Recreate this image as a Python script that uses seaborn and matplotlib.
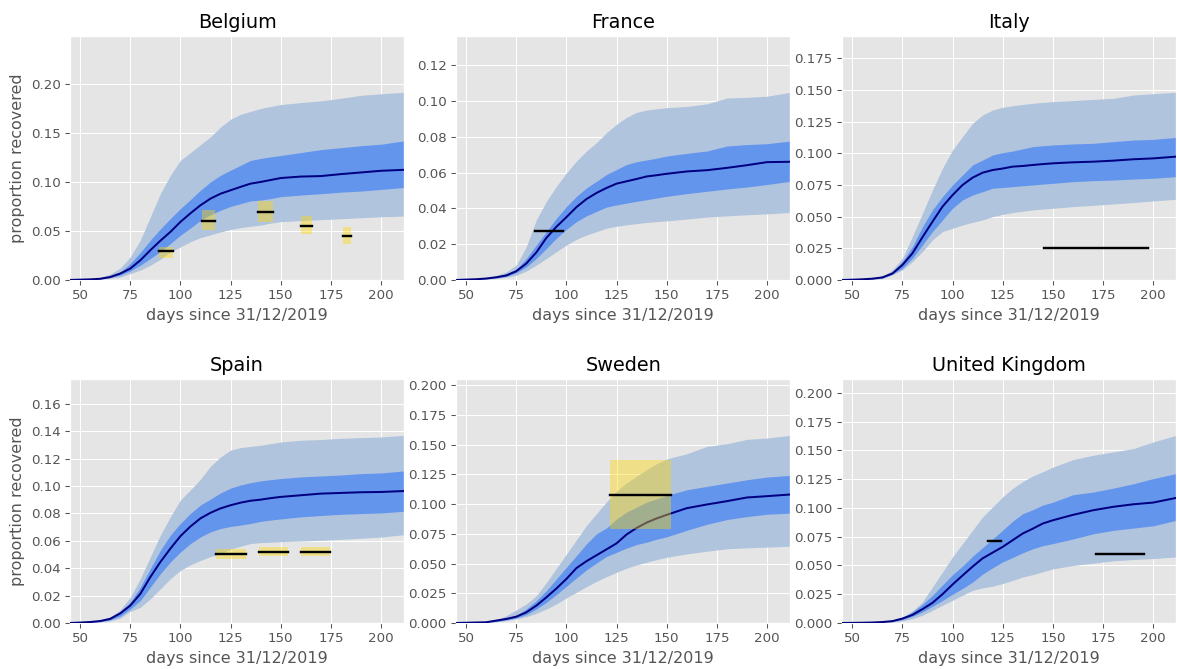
import matplotlib
matplotlib.use("Agg")
import matplotlib.pyplot as plt
from matplotlib.ticker import MultipleLocator
import seaborn as sns

# Modelled cumulative proportion recovered: median with 50% and 95% intervals
days = [45, 50, 55, 60, 65, 70, 75, 80, 85, 90, 95, 100, 105, 110, 115, 120,
        125, 130, 135, 140, 145, 150, 160, 170, 180, 190, 200, 211.6]

countries = ["Belgium", "France", "Italy", "Spain", "Sweden", "United Kingdom"]

belgium_median = [0, 0.0003, 0.0006, 0.0012, 0.003, 0.0065, 0.0116, 0.020, 0.0303, 0.040, 0.049, 0.0592, 0.068, 0.0762,
                  0.083, 0.088, 0.0915, 0.095, 0.0983, 0.100, 0.102, 0.104, 0.1055, 0.106, 0.108, 0.1097, 0.1114, 0.1124]
belgium_q25 = [0, 0.0002, 0.0005, 0.001, 0.0025, 0.005, 0.0092, 0.015, 0.0218, 0.029, 0.037, 0.0456, 0.053, 0.0609,
               0.0665, 0.0711, 0.075, 0.0779, 0.0806, 0.0815, 0.083, 0.085, 0.0866, 0.088, 0.0896, 0.0907, 0.0924, 0.0944]
belgium_q75 = [0, 0.0004, 0.0008, 0.0016, 0.004, 0.008, 0.0167, 0.028, 0.0405, 0.052, 0.0626, 0.0728, 0.082, 0.0915,
               0.100, 0.1068, 0.112, 0.117, 0.122, 0.124, 0.1256, 0.127, 0.130, 0.133, 0.135, 0.137, 0.1385, 0.142]
belgium_q025 = [0, 0.0001, 0.0003, 0.0006, 0.0015, 0.003, 0.0065, 0.010, 0.015, 0.021, 0.0286, 0.0337, 0.039, 0.0432,
                0.046, 0.049, 0.0515, 0.0534, 0.0548, 0.056, 0.058, 0.0595, 0.0605, 0.0615, 0.0625, 0.0635, 0.0645, 0.0652]
belgium_q975 = [0.0001, 0.0006, 0.0012, 0.0025, 0.006, 0.012, 0.0235, 0.0405, 0.0643, 0.088, 0.1068, 0.122, 0.130, 0.138,
                0.146, 0.156, 0.164, 0.169, 0.172, 0.175, 0.177, 0.179, 0.181, 0.1827, 0.1854, 0.1884, 0.190, 0.1915]

france_median = [0, 0.0002, 0.0004, 0.0008, 0.0015, 0.0025, 0.0049, 0.0092, 0.0154, 0.0235, 0.0297, 0.0351, 0.0407, 0.0452,
                 0.0486, 0.0514, 0.0538, 0.0551, 0.0564, 0.0578, 0.0585, 0.0593, 0.0606, 0.0613, 0.0626, 0.0641, 0.0658, 0.066]
france_q25 = [0, 0.0001, 0.0003, 0.0006, 0.0012, 0.002, 0.004, 0.0073, 0.012, 0.0176, 0.0233, 0.0283, 0.0326, 0.0358,
              0.0383, 0.0407, 0.0419, 0.0429, 0.0439, 0.0448, 0.0458, 0.0467, 0.0482, 0.0495, 0.0508, 0.0519, 0.0533, 0.0551]
france_q75 = [0, 0.0003, 0.0006, 0.001, 0.002, 0.0035, 0.006, 0.012, 0.0195, 0.027, 0.0345, 0.041, 0.0467, 0.0514,
              0.0551, 0.0589, 0.0617, 0.0645, 0.066, 0.067, 0.068, 0.0692, 0.0707, 0.072, 0.0748, 0.0756, 0.0761, 0.0776]
france_q025 = [0, 0.0001, 0.0002, 0.0004, 0.0008, 0.0015, 0.0026, 0.005, 0.0083, 0.012, 0.0158, 0.0195, 0.0227, 0.0251,
               0.027, 0.0289, 0.030, 0.0308, 0.0315, 0.0321, 0.0326, 0.033, 0.034, 0.0351, 0.0358, 0.0364, 0.0369, 0.0377]
france_q975 = [0.0001, 0.0004, 0.0008, 0.0014, 0.0025, 0.0045, 0.0083, 0.0186, 0.0336, 0.0439, 0.0523, 0.0598, 0.0664, 0.072,
               0.0767, 0.0823, 0.087, 0.0908, 0.0936, 0.0949, 0.0956, 0.0962, 0.0969, 0.0983, 0.1016, 0.102, 0.1026, 0.1048]

italy_median = [0, 0.0002, 0.0005, 0.001, 0.002, 0.005, 0.0118, 0.021, 0.0337, 0.046, 0.0579, 0.067, 0.075, 0.0808,
                0.0847, 0.0868, 0.088, 0.0895, 0.090, 0.0908, 0.0915, 0.0921, 0.0929, 0.0934, 0.0942, 0.0953, 0.096, 0.0974]
italy_q25 = [0, 0.0001, 0.0003, 0.0007, 0.0015, 0.0047, 0.0092, 0.0171, 0.0276, 0.0382, 0.0474, 0.0566, 0.0632, 0.0671,
             0.0697, 0.0724, 0.073, 0.0737, 0.0744, 0.075, 0.0757, 0.0763, 0.0776, 0.0784, 0.0789, 0.0797, 0.0803, 0.0816]
italy_q75 = [0, 0.0003, 0.0007, 0.0014, 0.003, 0.0066, 0.0145, 0.0263, 0.042, 0.0553, 0.0658, 0.075, 0.0829, 0.0908,
             0.0947, 0.0987, 0.1005, 0.1018, 0.1035, 0.1053, 0.106, 0.1066, 0.1074, 0.1079, 0.1092, 0.1105, 0.111, 0.1126]
italy_q025 = [0, 0.0001, 0.0002, 0.0005, 0.001, 0.004, 0.0079, 0.0145, 0.0224, 0.0316, 0.0382, 0.0408, 0.0434, 0.0455,
              0.0474, 0.050, 0.0518, 0.0532, 0.0543, 0.0553, 0.056, 0.0566, 0.0579, 0.0589, 0.060, 0.0611, 0.0624, 0.0637]
italy_q975 = [0.0001, 0.0004, 0.0009, 0.0017, 0.003, 0.0079, 0.0171, 0.0342, 0.0526, 0.071, 0.0882, 0.1026, 0.1132, 0.1237,
              0.1303, 0.1342, 0.1363, 0.1376, 0.1386, 0.1395, 0.1402, 0.1408, 0.1416, 0.1426, 0.1434, 0.146, 0.1471, 0.1482]

spain_median = [0, 0.0003, 0.0007, 0.0014, 0.003, 0.007, 0.0127, 0.0212, 0.0335, 0.0445, 0.0543, 0.0634, 0.0705, 0.0764,
                0.0805, 0.0837, 0.086, 0.0879, 0.0893, 0.0901, 0.0912, 0.0921, 0.0933, 0.0945, 0.095, 0.0955, 0.0957, 0.0964]
spain_q25 = [0, 0.0002, 0.0005, 0.001, 0.0022, 0.005, 0.0102, 0.0163, 0.0261, 0.0359, 0.0445, 0.0518, 0.058, 0.0629,
             0.0665, 0.069, 0.0705, 0.0715, 0.0727, 0.0742, 0.0752, 0.076, 0.0775, 0.0785, 0.0794, 0.0799, 0.0804, 0.0816]
spain_q75 = [0, 0.0004, 0.0009, 0.0018, 0.004, 0.0085, 0.0151, 0.0261, 0.0396, 0.0531, 0.0641, 0.0727, 0.080, 0.0862,
             0.0905, 0.095, 0.0985, 0.1008, 0.1025, 0.1038, 0.1047, 0.1055, 0.1067, 0.1074, 0.1081, 0.1091, 0.1096, 0.1111]
spain_q025 = [0, 0.0001, 0.0003, 0.0007, 0.0015, 0.0035, 0.0085, 0.0114, 0.0176, 0.0249, 0.0323, 0.0384, 0.0425, 0.0457,
              0.0485, 0.0506, 0.054, 0.056, 0.058, 0.0587, 0.059, 0.0594, 0.0599, 0.0604, 0.0611, 0.0619, 0.0628, 0.0645]
spain_q975 = [0.0001, 0.0005, 0.0011, 0.0022, 0.0045, 0.0095, 0.0188, 0.0323, 0.0482, 0.0641, 0.0776, 0.0898, 0.0972, 0.105,
              0.1145, 0.1213, 0.1262, 0.1281, 0.129, 0.1298, 0.131, 0.1322, 0.1335, 0.134, 0.1349, 0.1354, 0.1359, 0.1371]

sweden_median = [0, 0.0002, 0.0004, 0.0006, 0.002, 0.0034, 0.0053, 0.009, 0.0146, 0.0216, 0.029, 0.0371, 0.0462, 0.052,
                 0.057, 0.062, 0.067, 0.0745, 0.080, 0.0845, 0.088, 0.091, 0.0966, 0.0997, 0.1025, 0.1056, 0.1067, 0.1081]
sweden_q25 = [0, 0.0001, 0.0003, 0.0005, 0.0012, 0.0025, 0.0042, 0.007, 0.0118, 0.0174, 0.0239, 0.0309, 0.0379, 0.0447,
              0.0505, 0.056, 0.0595, 0.063, 0.066, 0.068, 0.0705, 0.0725, 0.078, 0.083, 0.087, 0.0895, 0.0915, 0.0924]
sweden_q75 = [0, 0.0003, 0.0006, 0.001, 0.0025, 0.0042, 0.0062, 0.0118, 0.0188, 0.0272, 0.0371, 0.0469, 0.0567, 0.0666,
              0.075, 0.080, 0.0876, 0.0933, 0.0975, 0.1017, 0.1045, 0.1073, 0.1121, 0.1149, 0.1177, 0.1205, 0.1228, 0.1242]
sweden_q025 = [0, 0.0001, 0.0003, 0.0005, 0.001, 0.002, 0.0034, 0.0053, 0.0081, 0.0118, 0.016, 0.0211, 0.0258, 0.0306,
               0.0351, 0.039, 0.0427, 0.0461, 0.0489, 0.0511, 0.0533, 0.0553, 0.0581, 0.0604, 0.0624, 0.0632, 0.0638, 0.0646]
sweden_q975 = [0.0001, 0.0004, 0.0008, 0.0014, 0.0025, 0.0062, 0.011, 0.016, 0.023, 0.034, 0.046, 0.058, 0.070, 0.082,
               0.092, 0.102, 0.111, 0.118, 0.1235, 0.129, 0.134, 0.138, 0.1424, 0.1486, 0.1508, 0.1545, 0.1556, 0.1579]

uk_median = [0, 0.0001, 0.0002, 0.0004, 0.0008, 0.0016, 0.0038, 0.007, 0.012, 0.0175, 0.025, 0.0334, 0.0413, 0.049,
             0.0562, 0.0612, 0.0662, 0.072, 0.0778, 0.082, 0.0865, 0.0893, 0.094, 0.098, 0.101, 0.1032, 0.1047, 0.1088]
uk_q25 = [0, 0.0001, 0.0001, 0.0003, 0.0006, 0.0012, 0.0029, 0.0058, 0.0096, 0.0145, 0.0195, 0.025, 0.030, 0.0355,
          0.0425, 0.048, 0.0531, 0.057, 0.061, 0.0645, 0.0672, 0.069, 0.073, 0.0775, 0.0805, 0.0825, 0.0845, 0.0893]
uk_q75 = [0, 0.0001, 0.0003, 0.0005, 0.001, 0.0022, 0.0046, 0.0096, 0.0162, 0.024, 0.033, 0.042, 0.0495, 0.058,
          0.0655, 0.073, 0.0807, 0.0885, 0.095, 0.0985, 0.1025, 0.105, 0.1115, 0.1138, 0.1172, 0.121, 0.1255, 0.130]
uk_q025 = [0, 0, 0.0001, 0.0002, 0.0004, 0.0008, 0.0017, 0.0038, 0.0067, 0.011, 0.0154, 0.0197, 0.0241, 0.0284,
           0.0305, 0.032, 0.0343, 0.037, 0.040, 0.042, 0.0445, 0.047, 0.050, 0.052, 0.054, 0.0552, 0.056, 0.0575]
uk_q975 = [0.0001, 0.0002, 0.0004, 0.0007, 0.0012, 0.0023, 0.0052, 0.0104, 0.0183, 0.0313, 0.0443, 0.0574, 0.069, 0.0806,
           0.0922, 0.101, 0.1096, 0.117, 0.123, 0.1278, 0.1315, 0.1355, 0.142, 0.1458, 0.1487, 0.1516, 0.1574, 0.1632]

# Serology survey estimates: period start/end (days) and estimate with its interval
belgium_sero_start = [89.4, 110.6, 138.7, 159.9, 181.0]
belgium_sero_end = [96.2, 117.3, 146.1, 165.4, 185.0]
belgium_sero_mid = [0.0293, 0.0603, 0.0693, 0.055, 0.0452]
belgium_sero_low = [0.0226, 0.0508, 0.0594, 0.0469, 0.0367]
belgium_sero_high = [0.0336, 0.0712, 0.0805, 0.0652, 0.0537]

france_sero_start = [84.4]
france_sero_end = [98.3]
france_sero_mid = [0.0272]
france_sero_low = [0.0272]
france_sero_high = [0.0272]

italy_sero_start = [145.7]
italy_sero_end = [197.3]
italy_sero_mid = [0.025]
italy_sero_low = [0.025]
italy_sero_high = [0.025]

spain_sero_start = [117.6, 139.0, 160.0]
spain_sero_end = [132.5, 153.7, 174.6]
spain_sero_mid = [0.0503, 0.0521, 0.0521]
spain_sero_low = [0.0466, 0.0487, 0.0487]
spain_sero_high = [0.0537, 0.0553, 0.0553]

sweden_sero_start = [121.9]
sweden_sero_end = [152.2]
sweden_sero_mid = [0.1079]
sweden_sero_low = [0.0787]
sweden_sero_high = [0.1368]

uk_sero_start = [117.5, 171.4]
uk_sero_end = [124.2, 195.4]
uk_sero_mid = [0.0712, 0.0601]
uk_sero_low = [0.0712, 0.0596]
uk_sero_high = [0.0712, 0.0606]

ytick_steps = [0.05, 0.02, 0.025, 0.02, 0.025, 0.025]

series = {
    "Belgium": (belgium_median, belgium_q25, belgium_q75, belgium_q025, belgium_q975,
                belgium_sero_start, belgium_sero_end, belgium_sero_mid, belgium_sero_low, belgium_sero_high),
    "France": (france_median, france_q25, france_q75, france_q025, france_q975,
               france_sero_start, france_sero_end, france_sero_mid, france_sero_low, france_sero_high),
    "Italy": (italy_median, italy_q25, italy_q75, italy_q025, italy_q975,
              italy_sero_start, italy_sero_end, italy_sero_mid, italy_sero_low, italy_sero_high),
    "Spain": (spain_median, spain_q25, spain_q75, spain_q025, spain_q975,
              spain_sero_start, spain_sero_end, spain_sero_mid, spain_sero_low, spain_sero_high),
    "Sweden": (sweden_median, sweden_q25, sweden_q75, sweden_q025, sweden_q975,
               sweden_sero_start, sweden_sero_end, sweden_sero_mid, sweden_sero_low, sweden_sero_high),
    "United Kingdom": (uk_median, uk_q25, uk_q75, uk_q025, uk_q975,
                       uk_sero_start, uk_sero_end, uk_sero_mid, uk_sero_low, uk_sero_high),
}

DPI = 96
plt.style.use("ggplot")
fig, axes = plt.subplots(2, 3, figsize=(1177 / DPI, 669 / DPI), dpi=DPI)
fig.subplots_adjust(left=0.0595, right=0.9995, top=0.9462, bottom=0.0688,
                    wspace=0.155, hspace=0.406)

for i, (ax, name) in enumerate(zip(axes.flat, countries)):
    med, q25, q75, q025, q975, s0, s1, sm, sl, sh = series[name]
    ax.fill_between(days, q025, q975, color="lightsteelblue", linewidth=0, zorder=1)
    ax.fill_between(days, q25, q75, color="cornflowerblue", linewidth=0, zorder=2)
    sns.lineplot(x=days, y=med, color="navy", linewidth=1.5, ax=ax, zorder=3)
    for a, b, m, lo, hi in zip(s0, s1, sm, sl, sh):
        if hi > lo:
            ax.fill_between([a, b], [lo, lo], [hi, hi], color="gold", alpha=0.4,
                            linewidth=0, zorder=4)
        sns.lineplot(x=[a, b], y=[m, m], color="black", linewidth=1.8, ax=ax, zorder=5)
    ax.set_xlim(45, 211.6)
    ax.set_ylim(0, 1.3 * max(q975))
    ax.xaxis.set_major_locator(MultipleLocator(25))
    ax.yaxis.set_major_locator(MultipleLocator(ytick_steps[i]))
    ax.set_title(name)
    ax.set_xlabel("days since 31/12/2019")
    ax.set_ylabel("proportion recovered" if i % 3 == 0 else "")

fig.savefig("out.png", dpi=DPI)
